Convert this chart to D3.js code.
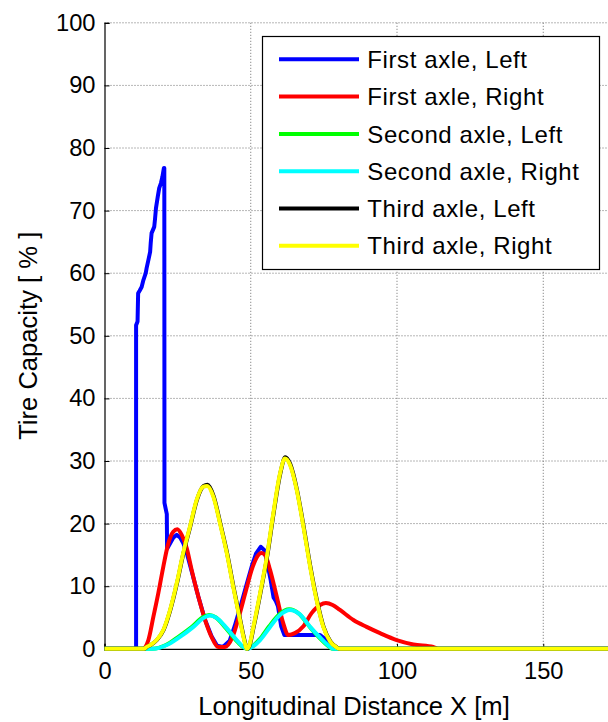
<!DOCTYPE html>
<html>
<head>
<meta charset="utf-8">
<script src="https://cdn.jsdelivr.net/npm/d3@7"></script>
<style>
  html, body { margin: 0; padding: 0; background: #fff; }
  svg { display: block; font-family: "Liberation Sans", Arial, Helvetica, sans-serif; }
</style>
</head>
<body>
<svg id="chart" width="608" height="722"></svg>
<script>
// Tire capacity usage per wheel along the path, [x (m), capacity (%)]
const firstLeft = [[0,0],[10.8,0],[10.8,51.7],[11.3,52.3],[11.5,56.8],[12.0,57.2],[12.7,57.8],[13.3,58.9],[14.1,60.0],[14.4,60.8],[15.0,62.1],[15.6,63.4],[15.8,64.8],[16.1,66.4],[17.0,67.4],[17.3,68.8],[17.6,70.4],[18.2,72.2],[18.7,73.6],[19.3,74.4],[19.8,75.4],[20.3,76.8],[20.45,76.8],[20.5,23.3],[21.3,21.5],[21.4,16.0],[22.5,16.9],[23.6,17.8],[24.7,18.2],[25.8,17.8],[27.0,16.8],[28.3,15.0],[29.8,12.4],[32.1,8.3],[34.4,4.6],[36.6,2.0],[38.5,0.5],[40.5,0.3],[42.8,1.3],[44.5,3.6],[46.5,6.8],[48.6,10.3],[50.5,13.4],[51.8,15.2],[53.4,16.3],[54.6,15.8],[55.6,13.8],[56.8,11.0],[57.8,8.2],[58.6,7.6],[59.3,6.8],[60.4,3.6],[61.5,2.2],[63.5,2.2],[73.7,2.2],[75.5,1.5],[77.5,0.3],[78.5,0],[200,0]];
const firstRight = [[0,0],[13.0,0],[15.0,1.4],[16.7,5.1],[18.4,8.9],[20.1,13.1],[21.8,16.8],[23.5,18.7],[24.9,19.1],[26.4,18.2],[28.1,16.1],[29.8,12.6],[32.1,8.3],[34.4,4.6],[36.6,1.9],[38.9,0.3],[41.2,0.3],[43.7,1.8],[46.0,5.2],[48.3,9.2],[50.6,13.0],[52.3,14.8],[53.6,15.3],[54.9,15.0],[56.6,12.6],[58.9,8.3],[61.1,4.1],[62.8,2.2],[65.1,2.5],[68.0,3.6],[70.8,5.7],[73.7,7.0],[75.7,7.3],[78.0,7.0],[80.5,6.2],[85.1,4.6],[89.6,3.5],[94.2,2.5],[99.9,1.4],[105.6,0.7],[112.4,0.3],[114,0],[200,0]];
const secondLeft = [[0,0],[16.4,0],[21.0,0.6],[25.5,2.0],[30.1,3.6],[33.5,5.0],[35.8,5.4],[38.1,5.0],[41.5,3.3],[44.9,1.4],[47.3,0.3],[48.8,0],[50.3,0.3],[53.0,1.5],[56.3,3.6],[59.8,5.5],[63.1,6.3],[66.5,5.6],[70.0,3.6],[73.4,1.8],[76.9,0.3],[77.8,0],[200,0]];
const secondRight = [[0,0],[16.7,0],[21.3,0.6],[25.8,1.9],[30.4,3.5],[33.8,4.9],[36.1,5.3],[38.4,4.9],[41.8,3.3],[45.2,1.4],[47.5,0.3],[49.0,0],[50.5,0.3],[53.2,1.4],[56.6,3.5],[60.0,5.4],[63.4,6.2],[66.8,5.5],[70.3,3.5],[73.7,1.8],[77.1,0.3],[78.0,0],[200,0]];
const thirdLeft = [[0,0],[13.6,0],[14.5,0.3],[16.1,0.7],[17.9,1.4],[20.2,3.0],[22.5,6.2],[24.8,10.5],[27.0,15.3],[29.3,19.5],[31.6,23.8],[33.9,26.0],[35.2,26.2],[37.3,24.4],[39.6,20.0],[41.9,15.3],[44.1,9.9],[46.4,4.6],[48.1,0.9],[48.7,0],[49.5,0.4],[51.0,3.5],[53.3,8.9],[55.6,14.7],[57.8,21.6],[60.1,28.0],[61.8,30.6],[63.5,29.5],[65.8,25.4],[68.1,19.5],[70.4,13.1],[72.6,7.8],[74.9,3.5],[77.2,1.2],[79.5,0.2],[80.6,0],[200,0]];
const thirdRight = [[0,0],[13.5,0],[14.4,0.3],[16.0,0.7],[17.8,1.4],[20.1,3.0],[22.4,6.2],[24.7,10.5],[26.9,15.3],[29.2,19.5],[31.5,23.8],[33.8,25.9],[35.1,26.0],[37.2,24.3],[39.5,20.0],[41.8,15.3],[44.0,9.9],[46.3,4.6],[48.0,0.9],[48.6,0],[49.4,0.4],[50.9,3.5],[53.2,8.9],[55.5,14.7],[57.7,21.6],[60.0,28.0],[61.7,30.4],[63.4,29.4],[65.7,25.4],[68.0,19.5],[70.3,13.1],[72.5,7.8],[74.8,3.5],[77.1,1.2],[79.4,0.2],[80.5,0],[200,0]];

const seriesNames = ["First axle, Left", "First axle, Right", "Second axle, Left", "Second axle, Right", "Third axle, Left", "Third axle, Right"];
const seriesColors = ["#0000ff", "#ff0000", "#00ff00", "#00ffff", "#000000", "#ffff00"];
const seriesData = [firstLeft, firstRight, secondLeft, secondRight, thirdLeft, thirdRight];

const xTicks = [0, 50, 100, 150];
const yTicks = [0, 10, 20, 30, 40, 50, 60, 70, 80, 90, 100];
const xTitle = "Longitudinal Distance X [m]";
const yTitle = "Tire Capacity [ % ]";

const svg = d3.select("#chart");
const W = 608, H = 722;
const plot = { left: 104.5, top: 22.8, bottom: 648.8, right: 104.5 + 200 * 2.925 };

const x = d3.scaleLinear().domain([0, 200]).range([plot.left, plot.right]);
const y = d3.scaleLinear().domain([0, 100]).range([plot.bottom, plot.top]);

svg.append("defs").append("clipPath").attr("id", "plotClip")
  .append("rect").attr("x", plot.left).attr("y", plot.top - 4)
  .attr("width", W - plot.left).attr("height", plot.bottom - plot.top + 8);

// grid
const grid = svg.append("g");
grid.selectAll("line.gy").data(yTicks.filter(d => d > 0)).join("line")
  .attr("x1", plot.left).attr("x2", plot.right)
  .attr("y1", d => y(d)).attr("y2", d => y(d))
  .attr("stroke", "#6e6e6e").attr("stroke-width", 1).attr("stroke-dasharray", "1,2");
grid.selectAll("line.gx").data(xTicks.filter(d => d > 0)).join("line")
  .attr("x1", d => x(d)).attr("x2", d => x(d))
  .attr("y1", plot.top).attr("y2", plot.bottom)
  .attr("stroke", "#6e6e6e").attr("stroke-width", 1).attr("stroke-dasharray", "1,2");

// axes (inward ticks)
const yAxis = d3.axisLeft(y).tickValues(yTicks).tickSize(-5).tickPadding(9).tickFormat(d3.format("d"));
const xAxis = d3.axisBottom(x).tickValues(xTicks).tickSize(-5).tickPadding(12).tickFormat(d3.format("d"));

const gy = svg.append("g").attr("transform", `translate(${plot.left},0)`).call(yAxis);
const gx = svg.append("g").attr("transform", `translate(0,${plot.bottom})`).call(xAxis);
[gx, gy].forEach(g => {
  g.select(".domain").attr("stroke", "#000").attr("stroke-width", 1.2);
  g.selectAll(".tick line").attr("stroke", "#000");
  g.selectAll(".tick text").attr("fill", "#000").attr("font-size", "23.7px")
    .attr("font-family", "Liberation Sans, Arial, sans-serif");
});
gx.selectAll(".tick text").attr("dy", "0.75em");

// data lines
const line = d3.line().x(d => x(d[0])).y(d => y(d[1]));
const lines = svg.append("g").attr("clip-path", "url(#plotClip)");
seriesData.forEach((data, i) => {
  lines.append("path").datum(data)
    .attr("d", line.curve(i === 0 ? d3.curveLinear : d3.curveMonotoneX))
    .attr("fill", "none")
    .attr("stroke", seriesColors[i])
    .attr("stroke-width", 4)
    .attr("stroke-linejoin", "round")
    .attr("stroke-linecap", "round");
});

// axis titles
svg.append("text")
  .attr("x", 354).attr("y", 715)
  .attr("text-anchor", "middle").attr("font-size", "25.6px").attr("fill", "#000")
  .text(xTitle);
svg.append("text")
  .attr("transform", `translate(37,${(plot.top + plot.bottom) / 2}) rotate(-90)`)
  .attr("text-anchor", "middle").attr("font-size", "25.6px").attr("fill", "#000")
  .text(yTitle);

// legend
const leg = svg.append("g");
leg.append("rect")
  .attr("x", 262.5).attr("y", 36.5).attr("width", 337).attr("height", 233)
  .attr("fill", "#fff").attr("stroke", "#000").attr("stroke-width", 1.2);
seriesNames.forEach((name, i) => {
  const cy = 59.3 + i * 37.3;
  leg.append("line")
    .attr("x1", 279).attr("x2", 359).attr("y1", cy).attr("y2", cy)
    .attr("stroke", seriesColors[i]).attr("stroke-width", 4);
  leg.append("text")
    .attr("x", 367.3).attr("y", cy + 8.6)
    .attr("font-size", "24px").attr("letter-spacing", "0.6px").attr("fill", "#000")
    .text(name);
});
</script>
</body>
</html>
